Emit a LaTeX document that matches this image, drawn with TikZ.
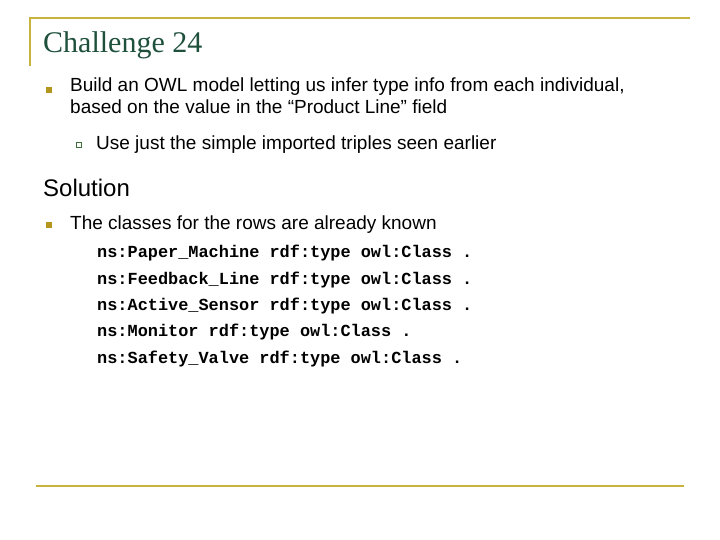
\documentclass[tikz,border=0pt]{standalone}
\usepackage{fontspec}
\setmainfont{Liberation Sans}
\newfontfamily\ttl{Liberation Serif}
\newfontfamily\mono{Liberation Mono}
\definecolor{gold}{RGB}{200,180,60}
\definecolor{ttlgreen}{RGB}{30,80,60}
\definecolor{bul}{RGB}{180,150,30}
\definecolor{subbul}{RGB}{60,110,60}
\tikzset{x=1pt,y=-1pt,
  txt/.style={anchor=west,inner sep=0pt,font=\fontsize{19}{22}\selectfont,align=left},
  code/.style={anchor=west,inner sep=0pt,font=\mono\bfseries\fontsize{16.9}{18}\selectfont},
  rule/.style={draw=gold,line width=1.5pt}}
\begin{document}
\begin{tikzpicture}
\useasboundingbox (0,0) rectangle (720,540);
\coordinate (tl) at (30,18); \coordinate (tr) at (690,18); \coordinate (bl) at (30,66);
\draw[rule] (bl) -- (tl) -- (tr);
\coordinate (b1) at (36,486); \coordinate (b2) at (684,486);
\draw[rule] (b1) -- (b2);
\node[anchor=west,inner sep=0pt,text=ttlgreen,font=\ttl\fontsize{30}{34}\selectfont] (title) at (43,45) {Challenge 24};
\node[fill=bul,minimum size=6pt,inner sep=0pt] (s1) at (49,90) {};
\node[txt,anchor=north west] (t1) at (70,78) {Build an OWL model letting us infer type info from each individual,\\based on the value in the “Product Line” field};
\node[draw=subbul,line width=0.6pt,minimum size=5pt,inner sep=0pt] (s2) at (79,145) {};
\node[txt] (t2) at (96,145) {Use just the simple imported triples seen earlier};
\node[anchor=west,inner sep=0pt,font=\fontsize{24}{26}\selectfont] (sol) at (43,188) {Solution};
\node[fill=bul,minimum size=6pt,inner sep=0pt] (s3) at (49,225) {};
\node[txt] (t3) at (70,225) {The classes for the rows are already known};
\node[code] (c1) at (97,253) {ns:Paper\_Machine rdf:type owl:Class .};
\node[code] (c2) at (97,280) {ns:Feedback\_Line rdf:type owl:Class .};
\node[code] (c3) at (97,306) {ns:Active\_Sensor rdf:type owl:Class .};
\node[code] (c4) at (97,332) {ns:Monitor rdf:type owl:Class .};
\node[code] (c5) at (97,359) {ns:Safety\_Valve rdf:type owl:Class .};
\end{tikzpicture}
\end{document}
